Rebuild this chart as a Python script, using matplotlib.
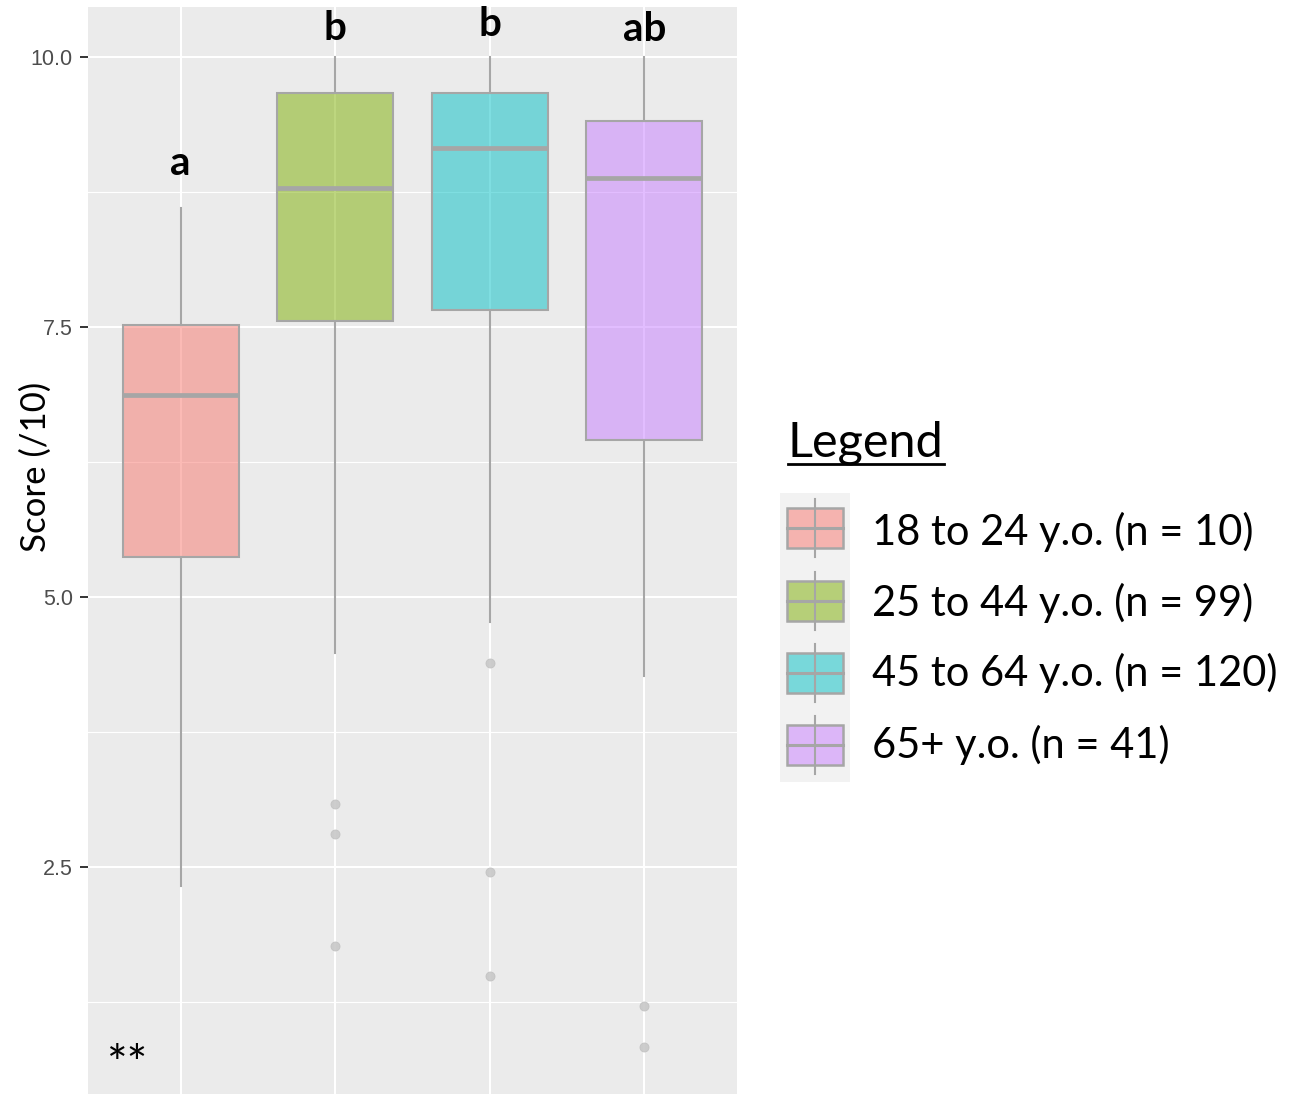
import numpy as np
import matplotlib.pyplot as plt
from matplotlib.patches import Rectangle

# data
groups = ['18 to 24 y.o. (n = 10)', '25 to 44 y.o. (n = 99)',
          '45 to 64 y.o. (n = 120)', '65+ y.o. (n = 41)']
letters = ['a', 'b', 'b', 'ab']
whis_lo = [2.32, 4.48, 4.77, 4.27]
q1 = [5.37, 7.56, 7.66, 6.45]
med = [6.87, 8.79, 9.16, 8.88]
q3 = [7.52, 9.67, 9.67, 9.41]
whis_hi = [8.60, 10.0, 10.0, 10.0]
outliers = [[], [3.08, 2.81, 1.77], [4.39, 2.45, 1.49], [1.21, 0.83]]
letter_y = [8.91, 10.16, 10.19, 10.15]
colors = ['#F8766D', '#7CAE00', '#00BFC4', '#C77CFF']

calibri = ['Lato', 'DejaVu Sans']
edge = '#A6A6A6'

fig = plt.figure(figsize=(13.01, 10.94), dpi=100)
ax = fig.add_axes([88 / 1301, 0, (737 - 88) / 1301, 1 - 7 / 1094])
ax.set_facecolor('#EBEBEB')

stats = []
for i in range(len(groups)):
    stats.append({'whislo': whis_lo[i], 'q1': q1[i], 'med': med[i], 'q3': q3[i],
                  'whishi': whis_hi[i], 'fliers': outliers[i]})
pos = np.arange(1, len(groups) + 1)

bp = ax.bxp(stats, positions=pos, widths=0.75, patch_artist=True, showcaps=False,
            boxprops=dict(edgecolor=edge, linewidth=1.5),
            medianprops=dict(color=edge, linewidth=3.4, solid_capstyle='butt'),
            whiskerprops=dict(color=edge, linewidth=1.5),
            flierprops=dict(marker='o', markersize=6.5, markerfacecolor='#C8C8C8',
                            markeredgecolor='#C0C0C0', markeredgewidth=0.6, alpha=0.9))
for b, c in zip(bp['boxes'], colors):
    b.set_facecolor(plt.matplotlib.colors.to_rgba(c, 0.5))

for x, t, y in zip(pos, letters, letter_y):
    ax.text(x, y, t, ha='center', va='baseline', fontsize=29, fontweight='bold',
            family=calibri, color='black')
ax.text(0.65, 0.66, '**', ha='center', va='center', fontsize=35, family=calibri)

ax.set_xlim(0.4, 4.6)
ax.set_ylim(0.398, 10.463)
ax.set_yticks([2.5, 5.0, 7.5, 10.0])
ax.set_yticklabels(['2.5', '5.0', '7.5', '10.0'], family='Liberation Sans')
ax.set_yticks([1.25, 3.75, 6.25, 8.75], minor=True)
ax.set_xticks(pos)
ax.set_xticklabels([])
ax.tick_params(axis='x', length=0)
ax.tick_params(axis='y', which='major', length=6, width=1.4, color='#333333',
               labelsize=15.5, labelcolor='#4D4D4D', pad=5)
ax.tick_params(axis='y', which='minor', length=0)
ax.grid(which='major', color='white', linewidth=1.5)
ax.grid(which='minor', axis='y', color='white', linewidth=0.8)
ax.set_axisbelow(True)
for s in ax.spines.values():
    s.set_visible(False)
ax.set_ylabel('Score (/10)', fontsize=25, family=calibri, va='center')
ax.yaxis.set_label_coords((36 - 88) / 649, (1094 - 467) / 1087)

# legend drawn by hand on the right
fig.text(788 / 1301, 1 - 457 / 1094, 'Legend', fontsize=35, family=calibri,
         ha='left', va='baseline')
fig.add_artist(plt.Line2D([788 / 1301, 944 / 1301], [1 - 464 / 1094, 1 - 464 / 1094],
                          color='black', linewidth=2))

lax = fig.add_axes([780 / 1301, 1 - 782 / 1094, 70 / 1301, 289 / 1094])
lax.set_xlim(0, 70)
lax.set_ylim(289, 0)
lax.set_facecolor('#F2F2F2')
lax.set_xticks([])
lax.set_yticks([])
for s in lax.spines.values():
    s.set_visible(False)

row_y = [35, 108, 180, 252]
text_y = [532, 603, 673, 745]
for r, c, g, ty in zip(row_y, colors, groups, text_y):
    lax.plot([35, 35], [r - 29, r + 29], color=edge, linewidth=1.5)
    lax.add_patch(Rectangle((7, r - 20), 56, 40, facecolor=c, alpha=0.5))
    lax.add_patch(Rectangle((7, r - 20), 56, 40, facecolor='none', edgecolor=edge, linewidth=1.8))
    lax.plot([7, 63], [r, r], color=edge, linewidth=2.2)
    fig.text(872 / 1301, 1 - ty / 1094, g, fontsize=30, family=calibri,
             ha='left', va='center')

fig.savefig('out.png', dpi=100)
